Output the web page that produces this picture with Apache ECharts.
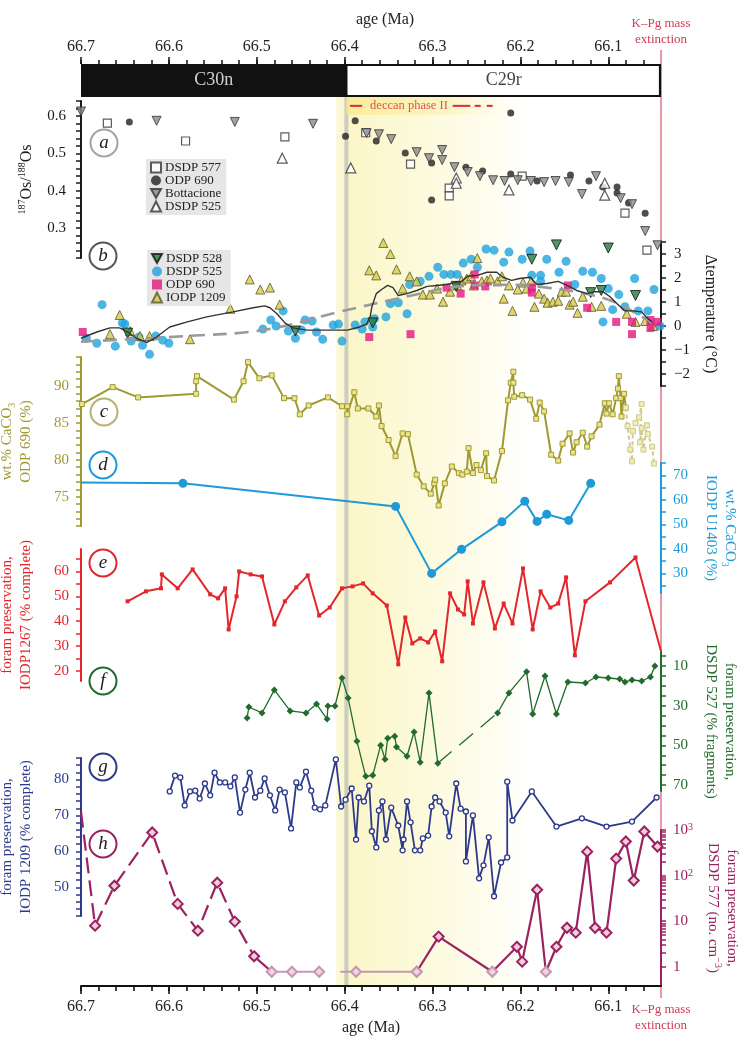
<!DOCTYPE html>
<html><head><meta charset="utf-8">
<script src="https://cdn.jsdelivr.net/npm/echarts@6/dist/echarts.min.js"></script>
<style>html,body{margin:0;padding:0;background:#fff}#c{width:746px;height:1046px}</style>
</head><body><div id="c"></div><script>
const SERIF = '"Liberation Serif","DejaVu Serif",serif';
// ---------- axis values ----------
const xTickLabels = [66.7, 66.6, 66.5, 66.4, 66.3, 66.2, 66.1];
const xMinorTicks = [66.7,66.68,66.66,66.64,66.62,66.6,66.58,66.56,66.54,66.52,66.5,66.48,66.46,66.44,66.42,66.4,66.38,66.36,66.34,66.32,66.3,66.28,66.26,66.24,66.22,66.2,66.18,66.16,66.14,66.12,66.1,66.08,66.06];
const chronNames = ['C30n', 'C29r'];
const chronBounds = [66.7, 66.398, 66.04];
const kpgAge = 66.04;
const yellowZone = [66.41, 66.17];
const deccanSolid1 = [66.394, 66.380];
const deccanSolid2 = [66.277, 66.257];
const deccanDash = [66.252, 66.227];
const deccanText = 66.371;

// ---------- (a) Os isotopes ----------
const aDSDP577 = [[66.670,0.581],[66.581,0.533],[66.468,0.544],[66.376,0.555],[66.325,0.471],[66.281,0.407],[66.281,0.386],[66.198,0.439],[66.081,0.340],[66.056,0.241]];
const aODP690 = [[66.645,0.584],[66.399,0.546],[66.388,0.587],[66.364,0.533],[66.331,0.501],[66.301,0.474],[66.301,0.375],[66.262,0.463],[66.243,0.453],[66.211,0.608],[66.211,0.445],[66.181,0.426],[66.143,0.442],[66.122,0.426],[66.106,0.410],[66.090,0.410],[66.090,0.394],[66.077,0.367],[66.058,0.340]];
const aBottacione = [[66.700,0.612],[66.614,0.587],[66.525,0.584],[66.436,0.579],[66.375,0.554],[66.361,0.551],[66.347,0.538],[66.318,0.503],[66.304,0.487],[66.289,0.509],[66.289,0.482],[66.275,0.463],[66.260,0.450],[66.246,0.439],[66.231,0.428],[66.218,0.426],[66.203,0.428],[66.188,0.426],[66.173,0.423],[66.160,0.426],[66.145,0.423],[66.130,0.391],[66.114,0.439],[66.086,0.380],[66.073,0.364],[66.058,0.292],[66.044,0.254]];
const aDSDP525 = [[66.471,0.487],[66.393,0.461],[66.273,0.434],[66.273,0.420],[66.213,0.402],[66.104,0.420],[66.104,0.388]];

// ---------- (b) Delta temperature ----------
const bDSDP525 = [[66.676,0.89],[66.694,-0.51],[66.682,-0.72],[66.661,-0.84],[66.653,0.13],[66.650,0.08],[66.643,-0.63],[66.634,-0.46],[66.630,-0.80],[66.622,-1.18],[66.615,-0.42],[66.607,-0.59],[66.600,-0.72],[66.493,-0.13],[66.484,0.25],[66.478,0.0],[66.470,0.63],[66.464,-0.21],[66.456,-0.51],[66.449,-0.17],[66.445,0.25],[66.437,0.21],[66.432,-0.25],[66.425,-0.55],[66.413,0.04],[66.407,0.08],[66.403,-0.63],[66.388,0.04],[66.380,-0.13],[66.377,0.17],[66.368,-0.04],[66.366,0.3],[66.353,0.38],[66.348,0.93],[66.339,0.97],[66.329,0.51],[66.326,1.73],[66.314,1.86],[66.304,2.07],[66.294,2.45],[66.287,2.15],[66.279,2.15],[66.272,2.15],[66.265,2.62],[66.256,2.78],[66.249,2.45],[66.239,3.21],[66.230,3.16],[66.219,2.66],[66.213,3.08],[66.198,2.78],[66.189,3.12],[66.187,2.11],[66.177,2.11],[66.177,1.86],[66.170,2.78],[66.156,2.24],[66.148,2.70],[66.138,1.73],[66.129,2.28],[66.118,2.24],[66.108,1.98],[66.100,1.56],[66.106,0.17],[66.095,0.68],[66.088,1.31],[66.081,0.8],[66.070,1.98],[66.066,0.63],[66.055,0.63],[66.048,1.52],[66.041,0.0]];
const bIODP1209 = [[66.656,0.46],[66.667,-0.34],[66.644,-0.21],[66.633,-0.42],[66.622,-0.42],[66.576,-0.55],[66.530,0.72],[66.508,1.94],[66.496,1.52],[66.485,1.6],[66.474,0.89],[66.372,2.32],[66.364,2.11],[66.356,3.46],[66.348,3.0],[66.341,2.36],[66.334,1.56],[66.326,2.07],[66.318,1.86],[66.311,1.31],[66.303,1.31],[66.295,1.56],[66.288,1.01],[66.280,1.43],[66.272,1.69],[66.267,1.9],[66.261,1.98],[66.256,2.07],[66.249,2.83],[66.253,1.69],[66.244,1.86],[66.238,1.9],[66.234,1.98],[66.226,1.86],[66.221,2.07],[66.219,1.14],[66.213,1.69],[66.209,0.63],[66.203,1.52],[66.197,1.81],[66.193,1.56],[66.188,1.86],[66.184,0.8],[66.179,1.35],[66.173,1.14],[66.169,0.97],[66.163,1.01],[66.157,1.05],[66.153,1.43],[66.148,1.43],[66.144,0.89],[66.140,1.01],[66.135,0.55],[66.129,1.22],[66.119,0.8],[66.108,0.84],[66.079,0.51],[66.069,0.17],[66.058,0.21],[66.049,0.0]];
const bODP690 = [[66.698,-0.25],[66.372,-0.46],[66.325,-0.34],[66.284,1.6],[66.268,1.35],[66.252,2.15],[66.252,1.69],[66.240,1.65],[66.187,1.6],[66.187,1.39],[66.146,1.69],[66.124,0.76],[66.091,0.17],[66.073,0.17],[66.073,-0.34],[66.052,0.25],[66.052,-0.08],[66.044,0.17]];
const bDSDP528 = [[66.647,-0.3],[66.456,-0.21],[66.368,0.13],[66.273,1.65],[66.187,2.78],[66.159,3.38],[66.120,1.39],[66.108,1.48],[66.100,3.25],[66.069,1.27]];
const bSmooth = [[66.700,-0.51],[66.682,-0.25],[66.667,-0.08],[66.656,-0.08],[66.647,-0.25],[66.637,-0.51],[66.625,-0.68],[66.614,-0.46],[66.599,-0.04],[66.579,0.17],[66.557,0.38],[66.527,0.59],[66.504,0.76],[66.491,0.84],[66.485,0.76],[66.477,0.51],[66.468,0.13],[66.459,-0.08],[66.443,-0.17],[66.420,-0.17],[66.397,-0.17],[66.383,-0.04],[66.375,0.08],[66.371,0.38],[66.369,0.8],[66.364,1.35],[66.358,1.52],[66.351,1.69],[66.345,1.6],[66.339,1.27],[66.329,1.35],[66.318,1.48],[66.306,1.65],[66.295,1.69],[66.284,1.73],[66.275,1.81],[66.267,1.86],[66.260,2.07],[66.249,2.11],[66.238,2.24],[66.227,2.24],[66.220,2.03],[66.210,1.9],[66.201,1.98],[66.189,2.03],[66.181,1.73],[66.170,1.77],[66.157,1.86],[66.147,1.69],[66.136,1.48],[66.124,1.35],[66.115,1.43],[66.106,1.43],[66.098,1.22],[66.090,0.93],[66.081,0.63],[66.072,0.63],[66.062,0.59],[66.056,0.34],[66.050,0.17]];
const bTrend = [[66.700,-0.65],[66.580,-0.42],[66.490,-0.15],[66.405,0.6],[66.320,1.3],[66.270,1.65],[66.220,1.72],[66.170,1.6],[66.120,1.3],[66.090,0.95],[66.060,0.35],[66.050,0.15]];

// ---------- (c) wt.% CaCO3 ODP 690 ----------
const cODP690 = [[66.699,87.6],[66.664,89.9],[66.635,88.5],[66.569,89.0],[66.569,90.7],[66.568,91.4],[66.526,88.2],[66.515,90.7],[66.510,93.3],[66.497,91.1],[66.483,91.5],[66.469,88.4],[66.457,88.4],[66.451,86.2],[66.441,87.4],[66.419,88.5],[66.403,87.3],[66.397,87.3],[66.397,86.2],[66.389,89.2],[66.385,87.0],[66.373,87.0],[66.364,85.9],[66.361,87.4],[66.358,84.6],[66.350,82.7],[66.342,80.5],[66.334,83.6],[66.328,83.5],[66.318,78.0],[66.310,76.4],[66.302,75.4],[66.298,76.8],[66.297,77.3],[66.293,73.8],[66.286,76.8],[66.278,79.1],[66.270,78.2],[66.266,78.0],[66.261,78.4],[66.259,81.6],[66.254,78.2],[66.250,79.3],[66.245,78.6],[66.239,80.9],[66.238,77.8],[66.230,77.2],[66.221,81.2],[66.214,88.1],[66.211,90.5],[66.208,92.0],[66.208,90.5],[66.207,88.6],[66.198,88.8],[66.189,88.2],[66.182,85.6],[66.178,87.8],[66.173,86.6],[66.165,80.7],[66.157,79.9],[66.152,82.2],[66.144,83.6],[66.140,81.0],[66.136,82.4],[66.129,83.7],[66.124,81.8],[66.119,83.2],[66.110,84.8],[66.104,87.7],[66.102,86.3],[66.099,87.7],[66.095,86.2],[66.091,88.4],[66.089,89.7],[66.088,91.4],[66.086,88.4],[66.085,85.9],[66.082,89.0],[66.080,87.1]];
const cODP690top = [[66.080,87.1],[66.078,84.6],[66.075,81.4],[66.073,79.8],[66.072,83.9],[66.069,85.0],[66.065,85.8],[66.062,87.6],[66.064,82.4],[66.062,84.3],[66.060,81.4],[66.056,84.7],[66.055,83.5],[66.050,81.8],[66.048,79.5]];

// ---------- (d) wt.% CaCO3 IODP U1403 ----------
const dU1403 = [[66.700,67.0],[66.584,66.7],[66.342,57.3],[66.301,30.0],[66.267,39.8],[66.221,51.0],[66.195,59.4],[66.181,51.2],[66.170,54.1],[66.145,51.6],[66.120,66.7]];

// ---------- (e) foram preservation IODP1267 ----------
const eIODP1267 = [[66.647,48.0],[66.626,52.0],[66.609,53.2],[66.608,58.8],[66.590,53.2],[66.573,60.8],[66.553,50.8],[66.544,49.2],[66.536,53.2],[66.532,36.7],[66.523,50.0],[66.520,60.0],[66.507,58.8],[66.494,58.0],[66.480,38.7],[66.468,48.0],[66.455,53.6],[66.442,58.4],[66.429,42.3],[66.417,45.5],[66.403,53.2],[66.391,54.0],[66.379,55.2],[66.368,51.2],[66.352,46.3],[66.339,22.7],[66.331,41.5],[66.323,31.1],[66.314,33.1],[66.305,31.5],[66.297,35.9],[66.289,23.9],[66.280,51.2],[66.271,44.7],[66.264,42.7],[66.260,56.0],[66.254,39.1],[66.242,55.6],[66.229,37.1],[66.219,47.1],[66.209,39.1],[66.197,61.2],[66.186,36.7],[66.177,52.0],[66.166,45.5],[66.157,47.1],[66.148,57.6],[66.138,26.3],[66.126,48.0],[66.098,55.6],[66.069,65.6],[66.040,27.9]];

// ---------- (f) foram preservation DSDP 527 (% fragments) ----------
const fDSDP527old = [[66.511,36.3],[66.509,30.7],[66.494,33.7],[66.480,22.1],[66.462,32.7],[66.444,33.7],[66.432,29.2],[66.420,36.8],[66.419,30.2],[66.411,30.2],[66.403,16.1],[66.396,26.2],[66.386,47.9],[66.376,65.6],[66.368,65.1],[66.359,49.9],[66.354,57.0],[66.351,46.4],[66.343,45.4],[66.341,50.9],[66.329,55.5],[66.321,43.3],[66.314,58.5],[66.304,23.6],[66.294,59.0]];
const fDSDP527gap = [[66.294,59.0],[66.226,33.7]];
const fDSDP527young = [[66.226,33.7],[66.213,23.6],[66.193,13.0],[66.186,34.2],[66.172,15.1],[66.159,34.2],[66.146,18.1],[66.126,18.6],[66.114,15.6],[66.100,16.1],[66.087,16.6],[66.081,18.1],[66.073,17.1],[66.062,17.6],[66.052,15.6],[66.047,10.0]];

// ---------- (g) foram preservation IODP 1209 ----------
const gIODP1209 = [[66.599,76.7],[66.593,81.1],[66.587,80.6],[66.582,72.8],[66.576,76.7],[66.570,76.9],[66.565,74.7],[66.559,78.9],[66.553,75.6],[66.548,81.9],[66.542,79.2],[66.536,79.2],[66.530,78.1],[66.525,80.6],[66.519,70.8],[66.513,77.2],[66.508,81.9],[66.502,75.0],[66.496,76.9],[66.491,80.3],[66.485,75.6],[66.479,71.4],[66.474,77.2],[66.468,76.4],[66.461,66.4],[66.455,79.2],[66.451,77.8],[66.444,82.2],[66.438,76.9],[66.434,72.2],[66.428,71.7],[66.422,72.8],[66.410,85.6],[66.404,72.5],[66.399,74.4],[66.392,77.5],[66.387,63.3],[66.384,75.0],[66.378,73.9],[66.372,78.3],[66.369,65.6],[66.364,61.1],[66.361,71.4],[66.357,73.9],[66.353,63.3],[66.347,72.2],[66.339,67.2],[66.334,60.3],[66.333,63.3],[66.329,73.9],[66.325,68.1],[66.320,60.3],[66.314,60.3],[66.311,63.6],[66.305,64.4],[66.301,72.5],[66.297,75.0],[66.292,73.9],[66.285,70.8],[66.281,64.2],[66.273,78.9],[66.268,71.9],[66.262,71.1],[66.262,57.2],[66.254,70.0],[66.247,52.5],[66.242,56.1],[66.236,63.9],[66.230,47.5],[66.222,56.9],[66.215,58.3],[66.215,79.4],[66.209,68.6],[66.187,76.7],[66.159,66.9],[66.130,69.2],[66.102,66.9],[66.073,68.3],[66.045,75.0]];

// ---------- (h) foram preservation DSDP 577 (no. cm-3) ----------
const hOlder = [[66.700,2500],[66.684,8.0],[66.662,60],[66.619,880],[66.590,24],[66.567,6.2],[66.545,70],[66.525,9.8],[66.503,1.7]];
const hTransition = [[66.503,1.7],[66.483,0.78]];
const hBelowDetectionA = [[66.483,0.78],[66.460,0.78],[66.429,0.78]];
const hBelowDetectionB = [[66.405,0.78],[66.387,0.78],[66.318,0.78]];
const hYounger = [[66.318,0.78],[66.293,4.6],[66.232,0.78],[66.204,2.75],[66.198,1.3],[66.181,49],[66.171,0.78],[66.159,2.75],[66.147,7.2],[66.137,5.6],[66.124,335],[66.115,7.2],[66.102,5.6],[66.091,236],[66.080,560],[66.071,78],[66.059,930],[66.044,433]];
const hDetectionLimit = 0.78;

// ---------- styling ----------
const COL = {ink:'#1a1a1a', olive:'#9f9933', oliveLight:'#cfc98e', blue:'#1e9bd7', red:'#e3262c', green:'#226b2f', navy:'#2d3a8c', mag:'#9b2260', magLight:'#c996b2', kpg:'#e2798a'};
const L = 81, R = 85;
const gridDefs = [
  {top:64, height:33},   // 0 chron bar
  {top:97, height:889},  // 1 background shading
  {top:50, height:948},  // 2 K-Pg line
  {top:101, height:157}, // 3 a
  {top:242, height:144}, // 4 b
  {top:357, height:169}, // 5 c
  {top:463, height:130}, // 6 d
  {top:549, height:132}, // 7 e
  {top:652, height:139}, // 8 f
  {top:758, height:158}, // 9 g
  {top:830, height:156}  // 10 h
];
const grid = gridDefs.map(g => Object.assign({left:L, right:R, containLabel:false, outerBoundsMode:'none'}, g));

function xBase(gi) {
  return {type:'value', gridIndex:gi, min:kpgAge, max:66.7, inverse:true, show:false,
    axisLine:{onZero:false}, splitLine:{show:false}};
}
const xAxis = gridDefs.map((g, i) => xBase(i));
const xLab = {customValues:xTickLabels, formatter:v => v.toFixed(1), color:'#222', fontFamily:SERIF, fontSize:16};
Object.assign(xAxis[0], {show:true, position:'top', axisLine:{show:false, onZero:false},
  axisTick:{show:true, length:7, customValues:xTickLabels, lineStyle:{color:'#111', width:1.5}},
  axisLabel:Object.assign({margin:9}, xLab),
  name:'age (Ma)', nameLocation:'middle', nameGap:36,
  nameTextStyle:{fontFamily:SERIF, fontSize:16, color:'#222', padding:[0,0,0,28]}});
Object.assign(xAxis[10], {show:true, position:'bottom', axisLine:{show:true, onZero:false, lineStyle:{color:'#111', width:2}},
  axisTick:{show:true, length:8, customValues:xTickLabels, lineStyle:{color:'#111', width:1.6}},
  axisLabel:Object.assign({margin:13}, xLab),
  name:'age (Ma)', nameLocation:'middle', nameGap:34,
  nameTextStyle:{fontFamily:SERIF, fontSize:16, color:'#222'}});
// minor ticks
xAxis.push(Object.assign(xBase(0), {show:true, position:'top', axisLine:{show:false, onZero:false},
  axisTick:{show:true, length:4, customValues:xMinorTicks, lineStyle:{color:'#111', width:1.5}}, axisLabel:{show:false}}));
xAxis.push(Object.assign(xBase(10), {show:true, position:'bottom', axisLine:{show:false, onZero:false},
  axisTick:{show:true, length:5, customValues:xMinorTicks, lineStyle:{color:'#111', width:1.6}}, axisLabel:{show:false}}));

function hidY(gi) { return {type:'value', gridIndex:gi, min:0, max:1, show:false, splitLine:{show:false}}; }
function yAx(o) {
  const rich = {
    s:{fontSize:10, verticalAlign:'top', fontFamily:SERIF, color:o.color},
    b:{fontSize:10, verticalAlign:'bottom', fontFamily:SERIF, color:o.color}
  };
  const ax = {type:o.log ? 'log' : 'value', gridIndex:o.gi, position:o.pos, min:o.min, max:o.max, inverse:!!o.inverse,
    splitLine:{show:false}, axisLine:{show:true, onZero:false, lineStyle:{color:o.color, width:2}},
    axisTick:{show:true, inside:false, length:5, customValues:o.ticks, lineStyle:{color:o.color, width:1.5}},
    axisLabel:{show:true, customValues:o.labels, formatter:o.fmt, color:o.color, fontFamily:SERIF, fontSize:15, margin:o.margin || 12, rich:rich},
    name:o.name, nameLocation:'middle', nameGap:o.nameGap, nameRotate:o.pos === 'left' ? 90 : -90,
    nameTextStyle:{color:o.color, fontFamily:SERIF, fontSize:o.nameSize || 15, lineHeight:19, rich:rich}};
  if (o.log) ax.logBase = 10;
  return ax;
}
function range(a, b, s) { const r = []; for (let i = 0; a + i * s <= b + 1e-9; i++) r.push(+(a + i * s).toFixed(4)); return r; }
const hTicks = [];
[1, 10, 100].forEach(d => { for (let k = 1; k <= 9; k++) hTicks.push(d * k); });
hTicks.push(1000);
const supMap = {1:'1', 10:'10', 100:'10{s|2}', 1000:'10{s|3}'};

const yAxis = [
  hidY(0), hidY(1), hidY(2),
  yAx({gi:3, pos:'left', min:0.22, max:0.64, color:COL.ink, labels:[0.3,0.4,0.5,0.6], ticks:range(0.22,0.64,0.02), fmt:v => v.toFixed(1), margin:15,
       name:'{s|187}Os/{s|188}Os', nameGap:42, nameSize:16}),
  yAx({gi:4, pos:'right', min:-2.5, max:3.5, color:COL.ink, labels:[-2,-1,0,1,2,3], ticks:range(-2.5,3.5,0.5), fmt:v => v < 0 ? '\u2212' + Math.abs(v) : String(v), margin:13,
       name:'\u0394temperature (\u00b0C)', nameGap:40, nameSize:16}),
  yAx({gi:5, pos:'left', min:71, max:94, color:COL.olive, labels:[75,80,85,90], ticks:range(71,94,1), fmt:v => String(v),
       name:'wt.% CaCO{b|3}\nODP 690 (%)', nameGap:45}),
  yAx({gi:6, pos:'right', min:22, max:75, color:COL.blue, labels:[30,40,50,60,70], ticks:range(25,75,5), fmt:v => String(v),
       name:'wt.% CaCO{b|3}\nIODP U1403 (%)', nameGap:40}),
  yAx({gi:7, pos:'left', min:16, max:69, color:COL.red, labels:[20,30,40,50,60], ticks:range(20,65,5), fmt:v => String(v),
       name:'foram preservation,\nIODP1267 (% complete)', nameGap:45}),
  yAx({gi:8, pos:'right', min:3, max:73, inverse:true, color:COL.green, labels:[10,30,50,70], ticks:range(5,70,5), fmt:v => String(v),
       name:'foram preservation,\nDSDP 527 (% fragments)', nameGap:40}),
  yAx({gi:9, pos:'left', min:42, max:86, color:COL.navy, labels:[50,60,70,80], ticks:range(42,86,2), fmt:v => String(v),
       name:'foram preservation,\nIODP 1209 (% complete)', nameGap:45}),
  yAx({gi:10, pos:'right', log:true, min:0.38, max:1000, color:COL.mag, labels:[1,10,100,1000], ticks:hTicks, fmt:v => supMap[Math.round(v)] || '',
       name:'foram preservation,\nDSDP 577 (no. cm{s|\u22123})', nameGap:40})
];

function ax(gi) { return {xAxisIndex:gi, yAxisIndex:gi}; }
function scatter(gi, name, data, symbol, size, style, extra) {
  return Object.assign({type:'scatter', name:name, data:data, symbol:symbol, symbolSize:size, itemStyle:style, z:3, silent:true}, ax(gi), extra || {});
}
function line(gi, name, data, lineStyle, symbol, size, itemStyle, extra) {
  return Object.assign({type:'line', name:name, data:data, lineStyle:lineStyle, symbol:symbol || 'none', symbolSize:size || 0,
    itemStyle:itemStyle || {}, showSymbol:!!symbol, silent:true, z:3}, ax(gi), extra || {});
}

const yellowGrad = new echarts.graphic.LinearGradient(0, 0, 1, 0, [
  {offset:0, color:'rgba(252,249,222,1)'},
  {offset:0.05, color:'rgba(251,246,200,1)'},
  {offset:0.35, color:'rgba(252,249,216,1)'},
  {offset:0.75, color:'rgba(254,253,240,1)'},
  {offset:1, color:'rgba(255,255,255,0)'}]);
const deccanGrad = new echarts.graphic.LinearGradient(0, 0, 1, 0, [
  {offset:0, color:'rgba(248,234,140,0.8)'},
  {offset:0.55, color:'rgba(250,240,170,0.55)'},
  {offset:1, color:'rgba(255,255,255,0)'}]);

function rectSeries(gi, data, fill, z) {
  return Object.assign({type:'custom', data:data, z:z, silent:true, clip:false,
    renderItem:(p, api) => {
      const a = api.coord([api.value(0), api.value(2)]);
      const b = api.coord([api.value(1), api.value(3)]);
      return {type:'rect', shape:{x:Math.min(a[0], b[0]), y:Math.min(a[1], b[1]), width:Math.abs(b[0] - a[0]), height:Math.abs(b[1] - a[1])}, style:{fill:fill}};
    }}, ax(gi));
}

const series = [
  // background shading, boundary line, K-Pg line
  rectSeries(1, [[yellowZone[0], yellowZone[1], 0, 1]], yellowGrad, -3),
  line(1, 'c29r-base', [[chronBounds[1], 0], [chronBounds[1], 1]], {color:'#cdcdbf', width:4}, null, 0, {}, {z:-2}),
  line(2, 'kpg', [{value:[kpgAge, 0], label:{show:true, position:'bottom', distance:4, formatter:'K\u2013Pg mass\nextinction'}},
                  {value:[kpgAge, 1], label:{show:true, position:'top', distance:2, formatter:'K\u2013Pg mass\nextinction'}}],
       {color:COL.kpg, width:1.5}, 'circle', 0, {color:COL.kpg},
       {z:-1, showSymbol:true, label:{color:'#cf3a55', fontFamily:SERIF, fontSize:13, lineHeight:16}}),
  // magnetochron bar
  rectSeries(0, [[chronBounds[0], chronBounds[1], 0, 1]], '#111', 4),
  Object.assign({type:'custom', data:[[chronBounds[1], chronBounds[2], 0, 1]], z:4, silent:true,
    renderItem:(p, api) => {
      const a = api.coord([api.value(0), 1]), b = api.coord([api.value(1), 0]);
      return {type:'rect', shape:{x:a[0], y:a[1] + 1, width:b[0] - a[0] - 1, height:b[1] - a[1] - 2}, style:{fill:'#fff', stroke:'#111', lineWidth:2.2}};
    }}, ax(0)),
  Object.assign({type:'scatter', data:[{value:[(chronBounds[0] + chronBounds[1]) / 2, 0.5], name:chronNames[0], label:{color:'#fff'}},
                                       {value:[(chronBounds[1] + chronBounds[2]) / 2, 0.5], name:chronNames[1], label:{color:'#111'}}],
    symbolSize:0, z:6, silent:true, label:{show:true, position:'inside', formatter:p => p.name, fontFamily:SERIF, fontSize:18}}, ax(0)),
  // deccan phase II
  rectSeries(3, [[chronBounds[1], 66.19, 0.652, 0.603]], deccanGrad, -1),
  line(3, 'deccan1', deccanSolid1.map(v => [v, 0.627]), {color:'#e0283c', width:2}),
  line(3, 'deccan2', deccanSolid2.map(v => [v, 0.627]), {color:'#e0283c', width:2}),
  line(3, 'deccan3', deccanDash.map(v => [v, 0.627]), {color:'#e0283c', width:2, type:[6, 6]}),
  Object.assign({type:'scatter', data:[[deccanText, 0.627]], symbolSize:0, silent:true, z:5,
    label:{show:true, position:'right', distance:0, formatter:'deccan phase II', color:'#e0283c', fontFamily:SERIF, fontSize:12.5}}, ax(3)),
  // (a)
  scatter(3, 'a:DSDP 577', aDSDP577, 'rect', 8, {color:'#fff', borderColor:'#333', borderWidth:1.2}),
  scatter(3, 'a:ODP 690', aODP690, 'circle', 7, {color:'#222'}),
  scatter(3, 'a:Bottacione', aBottacione, 'triangle', 9, {color:'#8a8a8a', borderColor:'#333', borderWidth:1}, {symbolRotate:180}),
  scatter(3, 'a:DSDP 525', aDSDP525, 'triangle', 10, {color:'#fff', borderColor:'#333', borderWidth:1.2}),
  // (b)
  scatter(4, 'b:DSDP 525', bDSDP525, 'circle', 9, {color:'#1fa3dd'}),
  scatter(4, 'b:IODP 1209', bIODP1209, 'triangle', 9, {color:'#d6cc45', borderColor:'#5a5530', borderWidth:1}),
  scatter(4, 'b:ODP 690', bODP690, 'rect', 8, {color:'#e3177f'}),
  scatter(4, 'b:DSDP 528', bDSDP528, 'triangle', 10, {color:'#247a3c', borderColor:'#111', borderWidth:1}, {symbolRotate:180}),
  line(4, 'trend', bTrend, {color:'#9a9a9a', width:2.6, type:[14, 8]}, null, 0, {}, {smooth:0.4, z:4}),
  line(4, 'smooth', bSmooth, {color:'#333', width:1.4}, null, 0, {}, {z:5}),
  // (c)
  line(5, 'c', cODP690, {color:COL.olive, width:2}, 'rect', 5, {color:'#ece48a', borderColor:COL.olive, borderWidth:1}),
  line(5, 'c2', cODP690top, {color:COL.oliveLight, width:2, type:[4, 3]}, 'rect', 5, {color:'#f1ebb4', borderColor:COL.oliveLight, borderWidth:1}),
  // (d)
  line(6, 'd', dU1403.map((p, i) => i === 0 ? {value:p, symbol:'none'} : p), {color:COL.blue, width:2}, 'circle', 9, {color:COL.blue}),
  // (e)
  line(7, 'e', eIODP1267.map((p, i) => i === eIODP1267.length - 1 ? {value:p, symbol:'none'} : p), {color:COL.red, width:2}, 'rect', 4, {color:COL.red}),
  // (f)
  line(8, 'f1', fDSDP527old, {color:COL.green, width:1.3}, 'diamond', 7, {color:COL.green}),
  line(8, 'f2', fDSDP527gap, {color:COL.green, width:1.3, type:[18, 10]}),
  line(8, 'f3', fDSDP527young, {color:COL.green, width:1.3}, 'diamond', 7, {color:COL.green}),
  // (g)
  line(9, 'g', gIODP1209, {color:COL.navy, width:1.8}, 'circle', 5, {color:'#fff', borderColor:COL.navy, borderWidth:1.3}),
  // (h)
  line(10, 'h1', hOlder.map((p, i) => i === 0 ? {value:p, symbol:'none'} : p), {color:COL.mag, width:2.2, type:[16, 7]}, 'diamond', 10,
       {color:'#f2cde0', borderColor:COL.mag, borderWidth:2}, {clip:false}),
  line(10, 'h2', hTransition, {color:COL.mag, width:2.2}),
  line(10, 'h3a', hBelowDetectionA, {color:COL.magLight, width:2}, 'diamond', 10, {color:'#ecd6e1', borderColor:COL.magLight, borderWidth:2}),
  line(10, 'h3b', hBelowDetectionB.map((p, i) => i === 0 ? {value:p, symbol:'none'} : p), {color:COL.magLight, width:2}, 'diamond', 10, {color:'#ecd6e1', borderColor:COL.magLight, borderWidth:2}),
  line(10, 'h4', hYounger.map(p => p[1] === hDetectionLimit ? {value:p, itemStyle:{color:'#ecd6e1', borderColor:COL.magLight}} : p),
       {color:COL.mag, width:2.2}, 'diamond', 10, {color:'#f2cde0', borderColor:COL.mag, borderWidth:2}, {z:4})
];

const legendBase = {orient:'vertical', itemGap:0, itemWidth:10, itemHeight:10, padding:[2, 5, 2, 4], backgroundColor:'#e6e6e6',
  selectedMode:false, textStyle:{fontFamily:SERIF, fontSize:13, color:'#222', lineHeight:13, padding:[0, 0, 0, -1]}, formatter:n => n.slice(2)};
const downTri = 'path://M0,0L10,0L5,9Z';
const legend = [
  Object.assign({left:146, top:159, data:[{name:'a:DSDP 577', icon:'rect'}, {name:'a:ODP 690', icon:'circle'}, {name:'a:Bottacione', icon:downTri}, {name:'a:DSDP 525', icon:'triangle'}]}, legendBase),
  Object.assign({left:147, top:250, data:[{name:'b:DSDP 528', icon:downTri}, {name:'b:DSDP 525', icon:'circle'}, {name:'b:ODP 690', icon:'rect'}, {name:'b:IODP 1209', icon:'triangle'}]}, legendBase)
];

const panelLabels = [['a', 104, 143, '#a3a3a3'], ['b', 103, 256, '#555'], ['c', 104, 412, '#b8b070'], ['d', 103, 465, COL.blue],
                     ['e', 103, 563, COL.red], ['f', 103, 681, COL.green], ['g', 103, 767, COL.navy], ['h', 103, 844, COL.mag]];
const graphic = [];
panelLabels.forEach(([t, x, y, c]) => {
  graphic.push({type:'circle', z:100, silent:true, shape:{cx:x, cy:y, r:13.5}, style:{fill:'rgba(255,255,255,0)', stroke:c, lineWidth:2}});
  graphic.push({type:'text', z:101, silent:true, x:x, y:y, style:{text:t, fill:'#222', font:'italic 19px "Liberation Serif"', textAlign:'center', textVerticalAlign:'middle'}});
});

const chart = echarts.init(document.getElementById('c'), null, {renderer:'canvas'});
chart.setOption({animation:false, backgroundColor:'#fff', grid, xAxis, yAxis, series, legend, graphic});
</script></body></html>
